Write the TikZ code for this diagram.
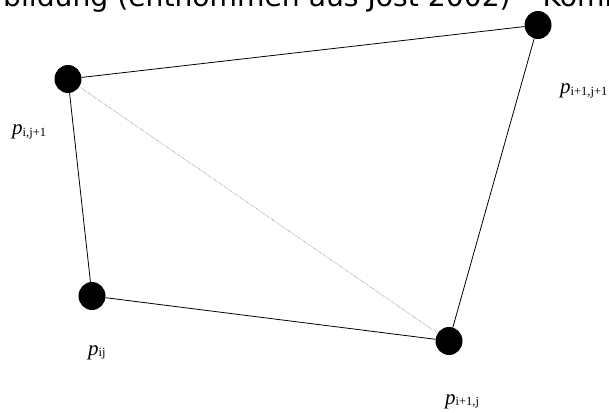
\documentclass[tikz,border=0pt]{standalone}
\usepackage{fontspec}
\setmainfont{Liberation Serif}
\newfontfamily\capfamily{DejaVu Sans}
\usetikzlibrary{shapes.geometric}
\definecolor{meshline}{HTML}{000000}
\definecolor{diagline}{HTML}{606060}
\newcommand{\capfont}{\capfamily\fontsize{28.2}{33}\selectfont}
\newcommand{\pfont}{\fontsize{21}{24}\selectfont\itshape}
\newcommand{\subfont}{\fontsize{12.5}{14}\selectfont\upshape}
\newcommand{\plabel}[1]{{\pfont p}\raisebox{-1.2pt}{\subfont #1}}
\tikzset{
  vertex/.style={ellipse,fill=black,inner sep=0pt,minimum width=27,minimum height=28},
  edge/.style={meshline,line width=0.8pt},
  diag/.style={diagline,line width=0.5pt,densely dotted},
  ptext/.style={anchor=base west,inner sep=0pt}
}

\begin{document}
\begin{tikzpicture}[x=1pt,y=1pt]
  \useasboundingbox (0,0) rectangle (609,412);

  \node[anchor=base west,inner sep=0pt] (cap) at (3,405)
    {\capfont bildung (entnommen aus Jost 2002) – Komm};

  \node[vertex] (ij1) at (68,333) {};
  \node[vertex] (i1j1) at (538,387) {};
  \node[vertex] (ij) at (92,116) {};
  \node[vertex] (i1j) at (449,71) {};

  \draw[edge] (ij1) -- (i1j1);
  \draw[edge] (i1j1) -- (i1j);
  \draw[edge] (i1j) -- (ij);
  \draw[edge] (ij) -- (ij1);
  \draw[diag] (ij1) -- (i1j);

  \node[ptext] (lij1) at (12,277) {\plabel{i,j+1}};
  \node[ptext] (li1j1) at (560,318) {\plabel{i+1,j+1}};
  \node[ptext] (lij) at (88,57) {\plabel{ij}};
  \node[ptext] (li1j) at (445,8) {\plabel{i+1,j}};
\end{tikzpicture}
\end{document}
